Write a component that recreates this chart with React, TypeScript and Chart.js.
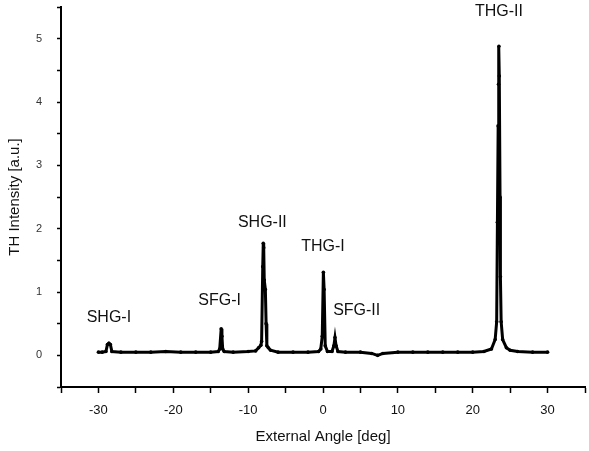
import React, { useEffect, useRef } from "react";
import { Chart, registerables } from "chart.js";

Chart.register(...registerables);

const angle = [
  -30, -29.5, -29.0, -28.8, -28.6, -28.4, -28.2, -27, -25, -23, -21, -19, -17, -15,
  -14.0, -13.8, -13.6, -13.5, -13.4, -13.2, -12, -10, -9, -8.6, -8.3, -8.2, -8.05,
  -7.98, -7.92, -7.85, -7.7, -7.6, -7.5, -7.3, -7.0, -6, -4, -2, -0.6, -0.3, -0.1,
  0.05, 0.15, 0.3, 0.6, 1.2, 1.45, 1.6, 1.75, 2.0, 3, 5, 6.5, 7.3, 8, 10, 12, 14,
  16, 18, 20, 21.5, 22.5, 23.0, 23.2, 23.3, 23.4, 23.45, 23.5, 23.55, 23.65, 23.7,
  23.8, 24.0, 24.5, 25, 26, 28, 30,
];
const intensity = [
  0.05, 0.05, 0.06, 0.17, 0.19, 0.17, 0.06, 0.05, 0.05, 0.05, 0.06, 0.05, 0.05, 0.05,
  0.06, 0.1, 0.42, 0.3, 0.1, 0.06, 0.05, 0.06, 0.07, 0.12, 0.16, 0.22, 1.4,
  1.77, 1.7, 1.19, 1.04, 0.5, 0.15, 0.12, 0.08, 0.05, 0.05, 0.05, 0.06, 0.1, 0.3,
  1.31, 1.04, 0.15, 0.06, 0.06, 0.15, 0.28, 0.15, 0.06, 0.05, 0.05, 0.03, 0.0, 0.03, 0.05, 0.05, 0.05,
  0.05, 0.05, 0.05, 0.06, 0.1, 0.25, 0.53, 2.1, 3.62, 4.28, 4.88, 4.41, 2.5, 1.24,
  0.53, 0.25, 0.12, 0.08, 0.06, 0.05, 0.05,
];

const peakNames = ["SHG-I", "SFG-I", "SHG-II", "THG-I", "SFG-II", "THG-II"];
const peakLabelX = [-28.6, -13.8, -8.1, 0.0, 4.5, 23.5];
const peakLabelY = [0.6, 0.86, 2.09, 1.72, 0.7, 5.43];

const xTickValues = [-30, -20, -10, 0, 10, 20, 30];
const yTickValues = [0, 1, 2, 3, 4, 5];

const FONT = "'Liberation Sans', Arial, sans-serif";

const peakLabelPlugin = {
  id: "peakLabels",
  afterDatasetsDraw(chart: any) {
    const { ctx, scales } = chart;
    ctx.save();
    ctx.fillStyle = "#111";
    ctx.font = `16px ${FONT}`;
    ctx.textAlign = "center";
    ctx.textBaseline = "middle";
    peakNames.forEach((name, i) => {
      const px = scales.x.getPixelForValue(peakLabelX[i]);
      const py = scales.y.getPixelForValue(peakLabelY[i]);
      ctx.fillText(name, px, py);
    });
    ctx.restore();
  },
};

export default function App() {
  const ref = useRef<HTMLCanvasElement | null>(null);
  useEffect(() => {
    if (!ref.current) return;
    const data = angle.map((a, i) => ({ x: a, y: intensity[i] }));
    const chart = new Chart(ref.current, {
      type: "scatter",
      data: {
        datasets: [
          {
            data,
            showLine: true,
            borderColor: "#000",
            backgroundColor: "#000",
            borderWidth: 3,
            pointRadius: 1.8,
            pointBorderWidth: 0,
            tension: 0,
          },
        ],
      },
      options: {
        animation: false,
        responsive: false,
        devicePixelRatio: 1,
        layout: { padding: { top: 7, right: 2, left: 0, bottom: 0 } },
        plugins: { legend: { display: false }, tooltip: { enabled: false } },
        scales: {
          x: {
            type: "linear",
            min: -35,
            max: 35,
            afterFit: (s: any) => {
              s.height = 64;
              s.paddingLeft = 0;
              s.paddingRight = 0;
            },
            grid: {
              drawOnChartArea: false,
              drawTicks: true,
              tickLength: 6,
              tickWidth: 1.5,
              tickColor: "#000",
            },
            border: { display: true, color: "#000", width: 2 },
            ticks: {
              stepSize: 5,
              padding: 10,
              color: "#111",
              font: { family: FONT, size: 13 },
              callback: (v: any) => (xTickValues.includes(Number(v)) ? String(v) : ""),
            },
            title: {
              display: true,
              text: "External Angle [deg]",
              color: "#111",
              font: { family: FONT, size: 15 },
              padding: { top: 5, bottom: 5 },
            },
          },
          y: {
            type: "linear",
            min: -0.5,
            max: 5.5,
            afterFit: (s: any) => {
              s.width = 61;
              s.paddingTop = 0;
              s.paddingBottom = 0;
            },
            grid: {
              drawOnChartArea: false,
              drawTicks: true,
              tickLength: 4,
              tickWidth: 1.5,
              tickColor: "#000",
            },
            border: { display: true, color: "#000", width: 2 },
            ticks: {
              stepSize: 0.5,
              padding: 15,
              color: "#333",
              font: { family: FONT, size: 11 },
              callback: (v: any) => (yTickValues.includes(Number(v)) ? String(v) : ""),
            },
            title: {
              display: true,
              text: "TH Intensity [a.u.]",
              color: "#111",
              font: { family: FONT, size: 15 },
              padding: { top: 6, bottom: 6 },
            },
          },
        },
      },
      plugins: [peakLabelPlugin],
    });
    return () => chart.destroy();
  }, []);
  return (
    <div style={{ position: "absolute", left: 0, top: 0, width: 589, height: 451, background: "#fff" }}>
      <canvas ref={ref} width={589} height={451} />
    </div>
  );
}
